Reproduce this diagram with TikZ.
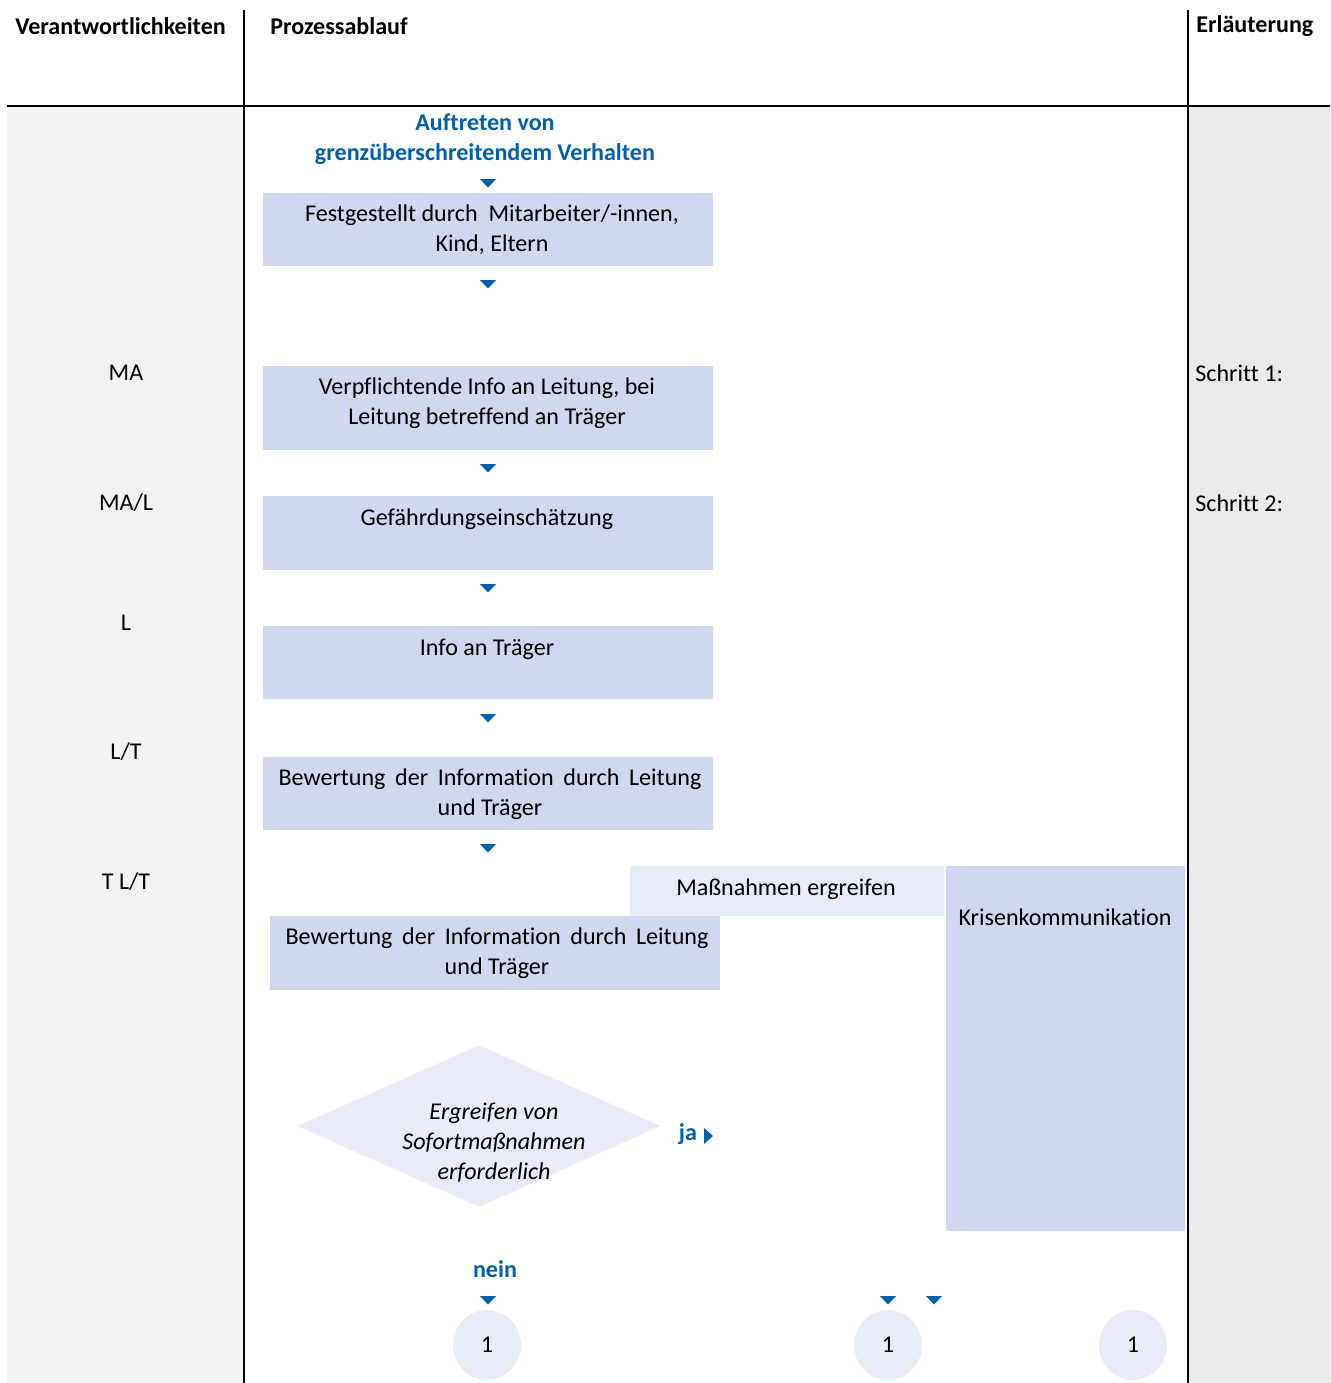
\documentclass[tikz,border=0pt]{standalone}
\usepackage{fontspec}
\setmainfont{Carlito}[Ligatures={NoCommon}]
\usepackage{xcolor}
\usetikzlibrary{shapes.geometric,fit}

\definecolor{boxblue}{RGB}{208,216,239}
\definecolor{paleblue}{RGB}{232,236,248}
\definecolor{darkblue}{RGB}{0,94,170}
\definecolor{leftgrey}{RGB}{242,242,242}
\definecolor{rightgrey}{RGB}{234,234,234}

\begin{document}
\begin{tikzpicture}[x=0.02cm, y=-0.02cm,
	font=\fontsize{13.7}{17.1}\selectfont,
	stepbox/.style={fill=boxblue, inner sep=0pt},
	palebox/.style={fill=paleblue, inner sep=0pt},
	steptext/.style={align=center, inner sep=0pt},
	headtext/.style={font=\fontsize{13.7}{17.1}\selectfont\bfseries, anchor=west, inner sep=0pt},
	bluetext/.style={text=darkblue, align=center, font=\fontsize{13.7}{17.1}\selectfont\bfseries, inner sep=0pt},
	tip/.style={fill=darkblue},
	rule/.style={line width=1.1pt}]
				\useasboundingbox (0,0) rectangle (1330,1383);
				
				% columns
				\fill[leftgrey] (7,106) rectangle (244,1383);
				\fill[rightgrey] (1188,106) rectangle (1330,1383);
				\draw[rule] (244,10) -- (244,1383);
				\draw[rule] (1188,10) -- (1188,1383);
				\draw[rule] (7,106) -- (1330,106);
				
				\node[headtext] (hresp) at (15,26){Verantwortlichkeiten};
				\node[headtext] (hproc) at (270,26){Prozessablauf};
				\node[headtext] (hexpl) at (1196,26){Erläuterung};
				
				% responsibilities (left)
				\node[steptext] (ma) at (126,373){MA};
				\node[steptext] (mal) at (126,503){MA/L};
				\node[steptext] (l) at (126,623){L};
				\node[steptext] (lt) at (126,752){L/T};
				\node[steptext] (tlt) at (126,882){T L/T};
				
				% explanation (right)
				\node[headtext, font=\fontsize{13.7}{17.1}\selectfont] (s1) at (1195,373){Schritt 1:};
				\node[headtext, font=\fontsize{13.7}{17.1}\selectfont] (s2) at (1195,503){Schritt 2:};
				
				% process
				\node[bluetext] (start) at (485,139){Auftreten von\\grenzüberschreitendem Verhalten};
				
				\node[stepbox, fit={(263,193) (713,266)}] (b1){};
				\node[stepbox, fit={(263,366) (713,450)}] (b2){};
				\node[stepbox, fit={(263,496) (713,570)}] (b3){};
				\node[stepbox, fit={(263,626) (713,699)}] (b4){};
				\node[stepbox, fit={(263,757) (713,830)}] (b5){};
				\node[stepbox, fit={(270,916) (720,990)}] (b6){};
				\node[palebox, fit={(630,866) (944,916)}] (act){};
				\node[stepbox, fit={(946,866) (1185,1231)}] (crisis){};
				
				\node[steptext] (t1) at (492,230){Festgestellt durch\ \ Mitarbeiter/-innen,\\Kind, Eltern};
				\node[steptext] (t2) at (487,403){Verpflichtende Info an Leitung, bei\\Leitung betreffend an Träger};
				\node[steptext] (t3) at (487,519){Gefährdungseinschätzung};
				\node[steptext] (t4) at (487,649){Info an Träger};
				\node[steptext] (t5) at (490,794){\makebox[8.46cm][s]{Bewertung der Information durch Leitung}\\und Träger};
				\node[steptext] (t6) at (497,953){\makebox[8.46cm][s]{Bewertung der Information durch Leitung}\\und Träger};
				\node[steptext] (tact) at (786,889){Maßnahmen ergreifen};
				\node[steptext] (tcrisis) at (1065,917){Krisenkommunikation};
				
				% decision
				\node[diamond, palebox, minimum width=7.26cm, minimum height=3.24cm] (dec) at (479,1126){};
				\node[steptext, font=\fontsize{13.7}{17.1}\selectfont\itshape] (tdec) at (494,1143){Ergreifen von\\Sofortmaßnahmen\\erforderlich};
				\node[bluetext] (yes) at (688,1134){ja};
				\fill[tip] (704,1128) -- (713,1136) -- (704,1144) -- cycle;
				\node[bluetext] (no) at (495,1269){nein};
				
				% connectors
				\foreach \x/\y in
				{c1/487, c2/888, c3/1133}{
					\node[ellipse, palebox, minimum width=1.36cm, minimum height=1.4cm] (\x) at (\y,1345){1};
				}
				
				\foreach \x/\y [count=\i] in
				{488/179, 488/280, 488/464, 488/584, 488/714, 488/844, 488/1296, 888/1296, 934/1296}{
					\coordinate (tip\i) at (\x,\y);
					\fill[tip] (tip\i) ++(-8,0) -- ++(16,0) -- ++(-8,8.5) -- cycle;
				}
\end{tikzpicture}
\end{document}
